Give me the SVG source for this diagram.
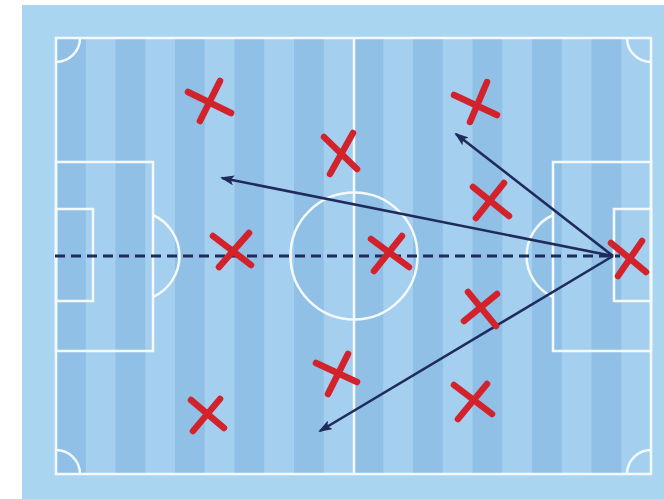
<svg xmlns="http://www.w3.org/2000/svg" width="664" height="499" viewBox="0 0 664 499">
<style>
.line{fill:none;stroke:#f4f9fd;stroke-width:2.5}
.dk{fill:#90c0e6}
.x{fill:none;stroke:#d2222b;stroke-width:6.5;stroke-linecap:round}
.arr{fill:none;stroke:#1f2b5c;stroke-width:2.6}
</style>
<defs>
<marker id="ah" viewBox="0 0 14 10" refX="12" refY="5" markerWidth="14" markerHeight="10" markerUnits="userSpaceOnUse" orient="auto">
<path d="M0,0 L14,5 L0,10 L3,5 Z" fill="#1f2b5c"/>
</marker>
</defs>
<rect width="664" height="499" fill="#ffffff"/>
<rect x="22" y="5" width="642" height="494" fill="#a9d5f0"/>
<g id="pitch">
<rect x="56" y="38" width="595" height="436" fill="#a4cfee"/>
<rect class="dk" x="56" y="38" width="29.75" height="436"/>
<rect class="dk" x="115.5" y="38" width="29.75" height="436"/>
<rect class="dk" x="175" y="38" width="29.75" height="436"/>
<rect class="dk" x="234.5" y="38" width="29.75" height="436"/>
<rect class="dk" x="294" y="38" width="29.75" height="436"/>
<rect class="dk" x="353.5" y="38" width="29.75" height="436"/>
<rect class="dk" x="413" y="38" width="29.75" height="436"/>
<rect class="dk" x="472.5" y="38" width="29.75" height="436"/>
<rect class="dk" x="532" y="38" width="29.75" height="436"/>
<rect class="dk" x="591.5" y="38" width="29.75" height="436"/>
<rect class="line" x="56" y="38" width="595" height="436"/>
<line class="line" x1="354" y1="38" x2="354" y2="474"/>
<circle class="line" cx="354" cy="256" r="63.5"/>
<rect class="line" x="56" y="162" width="97" height="189"/>
<rect class="line" x="56" y="209" width="37" height="92"/>
<rect class="line" x="553" y="162" width="98" height="189"/>
<rect class="line" x="614" y="209" width="37" height="92"/>
<path class="line" d="M153,215 A45,45 0 0 1 153,297"/>
<path class="line" d="M553,215 A45,45 0 0 0 553,297"/>
<path class="line" d="M80,38 A24,24 0 0 1 56,62"/>
<path class="line" d="M56,450 A24,24 0 0 1 80,474"/>
<path class="line" d="M627,38 A24,24 0 0 0 651,62"/>
<path class="line" d="M651,450 A24,24 0 0 0 627,474"/>
</g>
<g id="connectors">
<line x1="55" y1="256" x2="620" y2="256" stroke="#1f2b5c" stroke-width="3" stroke-dasharray="10 6"/>
<line class="arr" x1="613" y1="256" x2="222" y2="178" marker-end="url(#ah)"/>
<line class="arr" x1="613" y1="256" x2="456" y2="134" marker-end="url(#ah)"/>
<line class="arr" x1="613" y1="256" x2="320" y2="431" marker-end="url(#ah)"/>
</g>
<g id="player1"><path class="x" d="M188,92 L231,113 M220,81 L200,121"/></g>
<g id="player2"><path class="x" d="M324,137 L357,169 M353,133 L330,174"/></g>
<g id="player3"><path class="x" d="M454,95 L497,115 M487,82 L470,122"/></g>
<g id="player4"><path class="x" d="M473,187 L509,216 M504,183 L476,218"/></g>
<g id="player5"><path class="x" d="M468,292 L496,326 M497,294 L464,321"/></g>
<g id="player6"><path class="x" d="M213,236 L251,265 M249,233 L219,267"/></g>
<g id="player7"><path class="x" d="M371,239 L409,267 M402,236 L374,271"/></g>
<g id="player8"><path class="x" d="M611,243 L646,272 M642,241 L618,276"/></g>
<g id="player9"><path class="x" d="M316,363 L357,382 M348,354 L328,394"/></g>
<g id="player10"><path class="x" d="M454,385 L492,414 M487,384 L458,419"/></g>
<g id="player11"><path class="x" d="M191,400 L224,428 M220,399 L193,431"/></g>
</svg>
